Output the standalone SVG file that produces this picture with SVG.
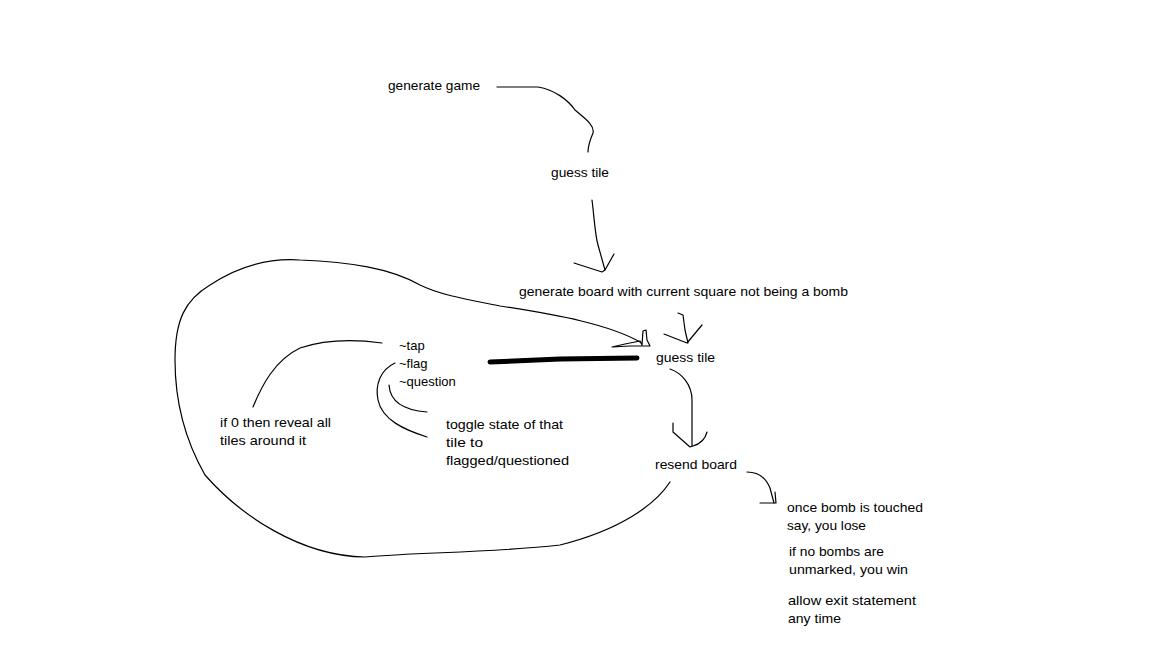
<svg xmlns="http://www.w3.org/2000/svg" width="1152" height="648" viewBox="0 0 1152 648">
<style>
text{font-family:"Liberation Sans","Noto Sans",sans-serif;font-size:13px;fill:#000}
.ln{fill:none;stroke:#000;stroke-width:1.2;stroke-linejoin:round;stroke-linecap:round}
.thick{fill:none;stroke:#000;stroke-width:5;stroke-linecap:round}
</style>
<rect width="1152" height="648" fill="#fff"/>
<g id="connectors">
<path class="ln" d="M497,87 L538,87 C555,90 568,100 575,110 C584,118 595,125 593,133 C590,140 588,145 588,152"/>
<path class="ln" d="M592,200 C594,215 595,235 598,245 L605,270"/>
<path class="ln" d="M574,263 L602,272 L605,270 L614,254"/>
<path class="ln" d="M670,482 C655,505 620,530 560,545 C490,553 420,552 365,557 C300,556 240,515 205,475 C185,440 175,400 175,360 C175,320 185,300 210,285 C240,265 270,258 300,260 C350,262 390,268 420,285 C440,295 470,300 500,306 C560,315 610,325 640,342"/>
<path class="ln" d="M612,347 L625,344 L640,341 L642,345 L643,331 L646,330 L647,340 L650,346 L630,346 Z"/>
<path class="ln" d="M382,343 C360,340 330,338 300,348 C275,360 262,385 253,407"/>
<path class="ln" d="M395,363 C380,370 375,385 378,400 C382,420 405,430 427,437"/>
<path class="ln" d="M389,385 C390,400 400,410 427,412"/>
<path class="thick" d="M490,362 L560,359 L637,358"/>
<path class="ln" d="M678,313 L683,315 L685,330 L688,343"/>
<path class="ln" d="M664,334 L687,343 L702,325"/>
<path class="ln" d="M670,369 C682,373 692,385 692,400 L692,446"/>
<path class="ln" d="M673,423 L673,432 L690,447 L693,446 C700,444 705,440 707,432"/>
<path class="ln" d="M747,472 C758,472 766,478 770,488 L774,503"/>
<path class="ln" d="M760,503 L776,503 L775,492"/>
</g>
<g id="n-generate-game"><text x="388" y="90" textLength="92" lengthAdjust="spacingAndGlyphs">generate game</text></g>
<g id="n-guess-tile-1"><text x="551" y="177" textLength="58" lengthAdjust="spacingAndGlyphs">guess tile</text></g>
<g id="n-generate-board"><text x="519" y="296" textLength="329" lengthAdjust="spacingAndGlyphs">generate board with current square not being a bomb</text></g>
<g id="n-guess-tile-2"><text x="656" y="362" textLength="59" lengthAdjust="spacingAndGlyphs">guess tile</text></g>
<g id="n-actions">
<text x="399" y="350">~tap</text>
<text x="399" y="368">~flag</text>
<text x="399" y="386">~question</text>
</g>
<g id="n-reveal">
<text x="220" y="427" textLength="111" lengthAdjust="spacingAndGlyphs">if 0 then reveal all</text>
<text x="220" y="445" textLength="86" lengthAdjust="spacingAndGlyphs">tiles around it</text>
</g>
<g id="n-toggle">
<text x="446" y="429" textLength="117" lengthAdjust="spacingAndGlyphs">toggle state of that</text>
<text x="446" y="447" textLength="37" lengthAdjust="spacingAndGlyphs">tile to</text>
<text x="446" y="465" textLength="123" lengthAdjust="spacingAndGlyphs">flagged/questioned</text>
</g>
<g id="n-resend"><text x="655" y="469" textLength="82" lengthAdjust="spacingAndGlyphs">resend board</text></g>
<g id="n-end">
<text x="787" y="512" textLength="136" lengthAdjust="spacingAndGlyphs">once bomb is touched</text>
<text x="787" y="530" textLength="79" lengthAdjust="spacingAndGlyphs">say, you lose</text>
<text x="789" y="556" textLength="95" lengthAdjust="spacingAndGlyphs">if no bombs are</text>
<text x="789" y="574" textLength="119" lengthAdjust="spacingAndGlyphs">unmarked, you win</text>
<text x="788" y="605" textLength="128" lengthAdjust="spacingAndGlyphs">allow exit statement</text>
<text x="788" y="623" textLength="53" lengthAdjust="spacingAndGlyphs">any time</text>
</g>
</svg>
